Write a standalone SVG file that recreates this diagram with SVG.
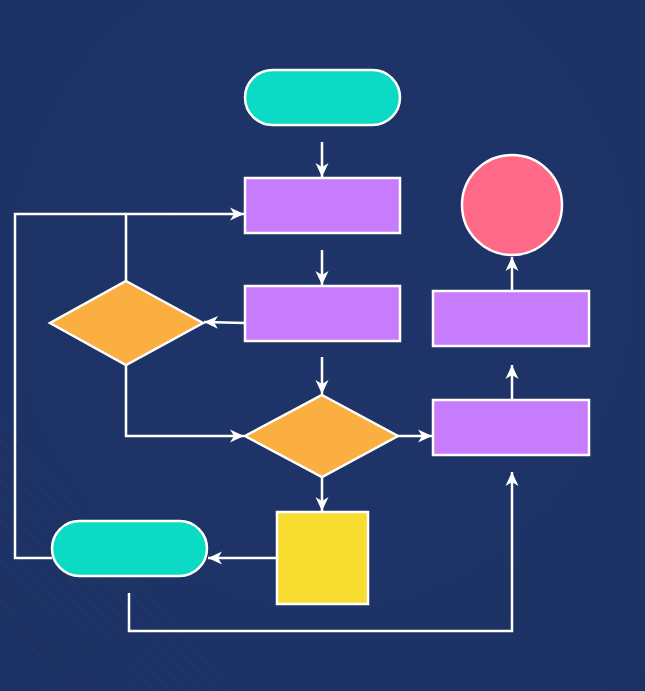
<svg xmlns="http://www.w3.org/2000/svg" width="645" height="691" viewBox="0 0 645 691">
<defs>
<marker id="ah" viewBox="0 0 14 14" refX="14" refY="7" markerWidth="14" markerHeight="14" markerUnits="userSpaceOnUse" orient="auto">
<path d="M0,0.5 L14,7 L0,13.5 L4,7 Z" fill="#ffffff"/>
</marker>
<radialGradient id="bg" cx="0.5" cy="0.4" r="0.8">
<stop offset="0" stop-color="#1f3569"/>
<stop offset="1" stop-color="#1c3265"/>
</radialGradient>
</defs>
<style>
.n{stroke:#ffffff;stroke-width:2.5}
.c{fill:none;stroke:#ffffff;stroke-width:2.5}
.a{marker-end:url(#ah)}
.proc{fill:#c77bfd}
.term{fill:#0bdac4}
.dec{fill:#fbaf40}
.bgl{stroke:#ffffff;stroke-opacity:0.04;stroke-width:1;fill:none}
</style>
<rect width="645" height="691" fill="url(#bg)"/>
<g id="background-lines">
<path class="bgl" d="M0,420 L230,691 M0,440 L215,691 M0,460 L200,691 M0,480 L185,691 M0,500 L170,691 M0,520 L155,691 M0,540 L140,691 M0,560 L125,691 M0,580 L110,691 M0,600 L95,691 M0,620 L80,691"/>
</g>
<g id="connectors">
<path class="c a" d="M322,142 L322,177"/>
<path class="c a" d="M322,250 L322,285"/>
<path class="c a" d="M245,323 L204,322"/>
<path class="c a" d="M126,281 L126,214 L244,214"/>
<path class="c" d="M52,558 L15,558 L15,214 L126,214"/>
<path class="c a" d="M126,365 L126,436 L244,436"/>
<path class="c a" d="M322,357 L322,394"/>
<path class="c a" d="M398,436 L432,436"/>
<path class="c a" d="M512,400 L512,365"/>
<path class="c a" d="M512,291 L512,257"/>
<path class="c a" d="M322,477 L322,511"/>
<path class="c a" d="M277,558 L208,558"/>
<path class="c a" d="M129,593 L129,631 L512,631 L512,472"/>
</g>
<g id="start"><rect class="n term" x="245" y="70" width="155" height="55" rx="27.5"/></g>
<g id="process1"><rect class="n proc" x="245" y="178" width="155" height="55"/></g>
<g id="process2"><rect class="n proc" x="245" y="286" width="155" height="55"/></g>
<g id="decision-left"><polygon class="n dec" points="126,281 203,323 126,365 50,323"/></g>
<g id="decision-center"><polygon class="n dec" points="322,395 398,436 322,477 245,436"/></g>
<g id="process-right-lower"><rect class="n proc" x="433" y="400" width="156" height="55"/></g>
<g id="process-right-upper"><rect class="n proc" x="433" y="291" width="156" height="55"/></g>
<g id="end-circle"><circle class="n" cx="512" cy="205" r="50" fill="#fe6a87"/></g>
<g id="yellow-box"><rect class="n" x="277" y="512" width="91" height="92" fill="#f8dc2f"/></g>
<g id="terminal-bottom"><rect class="n term" x="52" y="521" width="155" height="55" rx="27.5"/></g>
</svg>
